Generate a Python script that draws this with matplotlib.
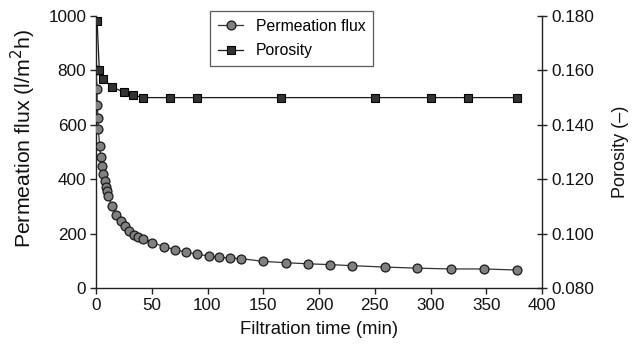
import matplotlib
matplotlib.use("Agg")
import matplotlib.pyplot as plt

plt.rcParams['font.family'] = ['Liberation Sans', 'DejaVu Sans']

# Permeation flux vs filtration time
flux_time = [0, 1, 1, 2, 2, 3.3, 4.2, 5.4, 6.5, 7.8, 9, 10, 11, 14, 18, 22, 26, 30, 34,
             38, 42.5, 50.5, 61, 71, 81, 91, 101, 110, 120, 130, 150, 170, 190, 210,
             230, 259, 288, 318, 348, 378]
flux = [800, 730, 673, 626, 586, 523, 480, 447, 419, 393, 372, 357, 340, 301, 268, 246,
        227, 211, 196, 188, 181, 167, 152, 141, 131, 125, 117, 113, 110, 108, 98, 93, 89,
        86, 82, 77, 73, 70, 70, 66]

# Cake porosity vs filtration time
por_time = [1, 3, 6, 14, 25, 33, 42, 66, 91, 166, 250, 300, 334, 378]
porosity = [0.178, 0.160, 0.157, 0.154, 0.152, 0.151, 0.150, 0.150, 0.150, 0.150,
            0.150, 0.150, 0.150, 0.150]

x_ticks = [0, 50, 100, 150, 200, 250, 300, 350, 400]
flux_ticks = [0, 200, 400, 600, 800, 1000]
por_ticks = [0.080, 0.100, 0.120, 0.140, 0.160, 0.180]

fig = plt.figure(figsize=(6.38, 3.49), dpi=100)
ax = fig.add_axes([96 / 638, 1 - 288 / 349, 446 / 638, 272 / 349])
ax2 = ax.twinx()

l1, = ax.plot(flux_time, flux, color='#333333', lw=0.9, marker='o', ms=6.4,
              mfc='#808080', mec='#1a1a1a', mew=0.9, label='Permeation flux', zorder=3)
l2, = ax2.plot(por_time, porosity, color='#1a1a1a', lw=0.9, marker='s', ms=5.4,
               mfc='#333333', mec='#000000', mew=0.8, label='Porosity', zorder=3)

ax.set_xlim(0, 400)
ax.set_ylim(0, 1000)
ax2.set_ylim(0.080, 0.180)
ax.set_xticks(x_ticks)
ax.set_yticks(flux_ticks)
ax2.set_yticks(por_ticks)
ax2.set_yticklabels([f"{v:.3f}" for v in por_ticks])

for a in (ax, ax2):
    a.spines['top'].set_visible(False)
    for s in a.spines.values():
        s.set_linewidth(1.0)
        s.set_color('#222222')
ax.spines['right'].set_visible(False)
ax2.spines['left'].set_visible(False)
ax2.spines['bottom'].set_visible(False)

ax.tick_params(axis='both', direction='out', length=4, width=1.0, labelsize=12.3,
               colors='#222222', labelcolor='#111111', pad=3)
ax2.tick_params(axis='y', direction='inout', length=7, width=1.0, labelsize=12.3,
                colors='#222222', labelcolor='#111111', pad=3)

ax.set_xlabel('Filtration time (min)', fontsize=13.3, color='#111111', labelpad=6)
ax.set_ylabel('Permeation flux (l/m$^2$h)', fontsize=15.3, color='#111111')
ax.yaxis.set_label_coords(-0.13, 0.551)
ax2.set_ylabel('Porosity (\u2013)', fontsize=13, color='#111111', labelpad=13)

leg = ax.legend(handles=[l1, l2], loc='upper left', bbox_to_anchor=(0.256, 1.018),
                fontsize=11.3, frameon=True, fancybox=False, handlelength=1.6,
                borderpad=0.5, labelspacing=0.6, handletextpad=0.8, borderaxespad=0)
leg.get_frame().set_edgecolor('#333333')
leg.get_frame().set_linewidth(0.9)
leg.set_zorder(5)

fig.savefig('out.png', dpi=100)
